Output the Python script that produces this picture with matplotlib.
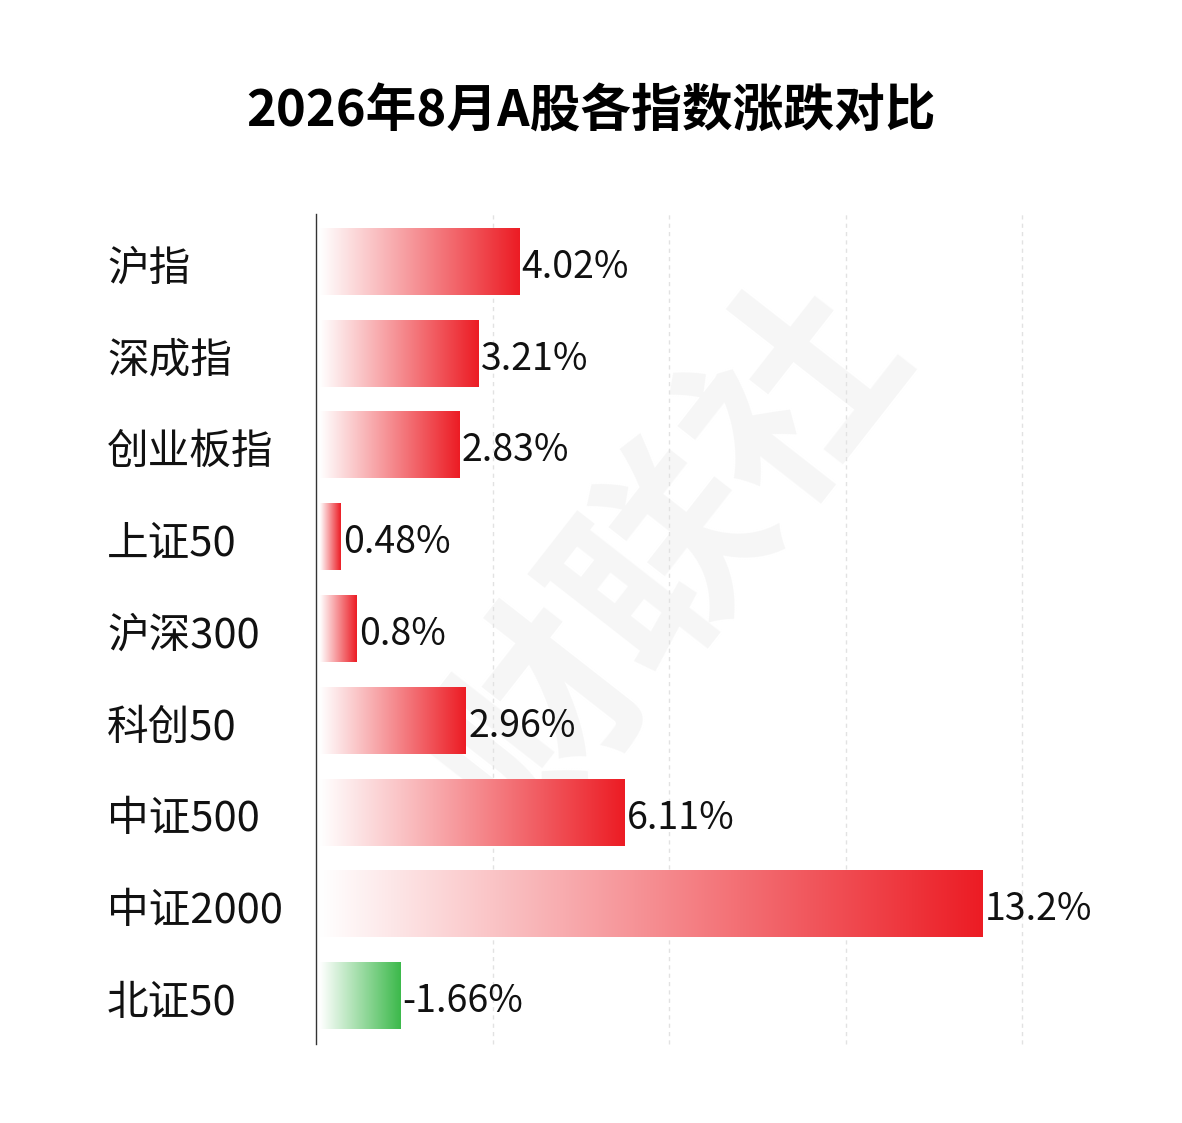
import numpy as np
import matplotlib
matplotlib.use("Agg")
import matplotlib.pyplot as plt
from matplotlib.colors import LinearSegmentedColormap
from matplotlib.transforms import blended_transform_factory

plt.rcParams['font.family'] = ['Noto Sans CJK SC', 'DejaVu Sans']

title = "2026年8月A股各指数涨跌对比"
categories = ["沪指", "深成指", "创业板指", "上证50", "沪深300", "科创50", "中证500", "中证2000", "北证50"]
values = [4.02, 3.21, 2.83, 0.48, 0.8, 2.96, 6.11, 13.2, -1.66]
grid_ticks = [3.5, 7.0, 10.5, 14.0]

W, H = 1182, 1123
fig = plt.figure(figsize=(W / 100, H / 100), dpi=100)
fig.patch.set_facecolor("white")

# faint watermark
fig.text(670 / W, 1 - 560 / H, "财联社", fontsize=150, fontweight="bold",
         color="#f6f6f6", rotation=52, ha="center", va="center", zorder=-5)

ax = fig.add_axes([316 / W, 1 - 1044 / H, (1022 - 316) / W, (1044 - 214) / H])
ax.patch.set_alpha(0)

red_cmap = LinearSegmentedColormap.from_list("red", ["#ffffff", "#ec1c24"])
green_cmap = LinearSegmentedColormap.from_list("green", ["#ffffff", "#3cb94b"])
grad = np.linspace(0, 1, 256).reshape(1, -1)

bar_h = 0.72
x0 = 0.07
for i, v in enumerate(values):
    length = abs(v)
    cmap = red_cmap if v >= 0 else green_cmap
    ax.imshow(grad, cmap=cmap, aspect="auto",
              extent=[x0, length, i + bar_h / 2, i - bar_h / 2], zorder=3,
              interpolation="bicubic")
    ax.annotate(f"{v:g}%", xy=(length, i), xytext=(2, -4), textcoords="offset points",
                ha="left", va="center", fontsize=27, color="#111111", zorder=4)

ax.set_xlim(0, 14)
ax.set_ylim(8.52, -0.52)

for g in grid_ticks:
    ax.axvline(g, color="#e2e2e2", lw=1, ls=(0, (3, 3)), zorder=1, clip_on=False)

for s in ["top", "right", "bottom"]:
    ax.spines[s].set_visible(False)
ax.spines["left"].set_color("#333333")
ax.spines["left"].set_linewidth(1)
ax.spines["left"].set_zorder(6)
ax.set_xticks([])
ax.set_yticks([])

trans = blended_transform_factory(fig.transFigure, ax.transData)
for i, c in enumerate(categories):
    ax.text(107 / W, i + 0.08, c, transform=trans, ha="left", va="center",
            fontsize=30, color="#111111")

fig.text(591 / W, 1 - 112 / H, title, ha="center", va="center",
         fontsize=36.5, fontweight="bold", color="#000000")

fig.savefig("out.png", dpi=100, facecolor="white")
